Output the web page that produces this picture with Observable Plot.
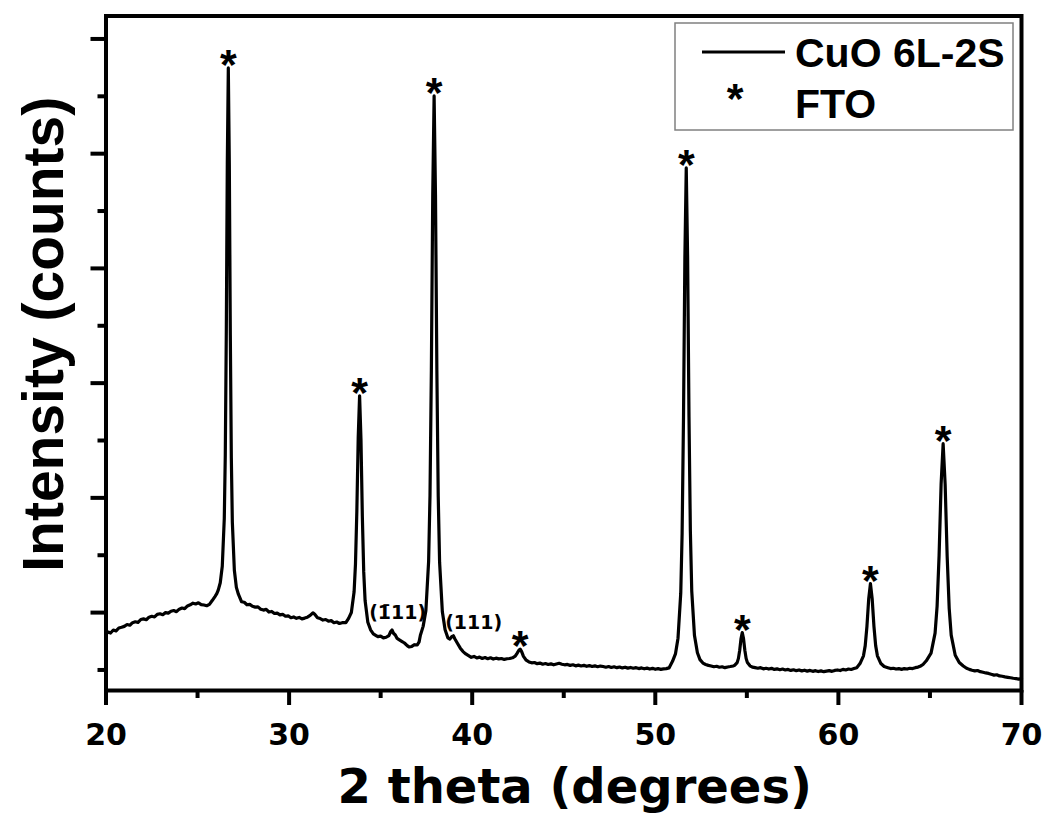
<!DOCTYPE html>
<html>
<head>
<meta charset="utf-8">
<script src="https://cdn.jsdelivr.net/npm/d3@7"></script>
<script src="https://cdn.jsdelivr.net/npm/@observablehq/plot@0.6"></script>
<style>
  html, body { margin: 0; padding: 0; background: #fff; }
  #chart svg { display: block; }
</style>
</head>
<body>
<div id="chart"></div>
<script>
// ---- data ----
// XRD pattern: [2 theta (deg), intensity (counts, arbitrary scale)]
const xrd = [
  [20.0, 812], [20.12, 830], [20.25, 822], [20.4, 848], [20.55, 840], [20.7, 866], [20.85, 872], [21.0, 880],
  [21.15, 896], [21.3, 890], [21.45, 912], [21.6, 920], [21.75, 915], [21.9, 940], [22.05, 945], [22.2, 938],
  [22.35, 960], [22.5, 968], [22.65, 962], [22.8, 985], [22.95, 990], [23.1, 982], [23.25, 1000], [23.4, 995],
  [23.55, 1012], [23.7, 1018], [23.85, 1008], [24.0, 1030], [24.15, 1040], [24.3, 1035], [24.45, 1058], [24.6, 1068],
  [24.75, 1082], [24.9, 1075], [25.05, 1085], [25.2, 1070], [25.35, 1066], [25.5, 1060], [25.65, 1072], [25.8, 1105],
  [25.95, 1140], [26.05, 1165], [26.13, 1196], [26.24, 1260], [26.35, 1404], [26.46, 1820], [26.515, 2374], [26.57, 3437],
  [26.625, 4915], [26.68, 5747], [26.735, 4909], [26.79, 3418], [26.845, 2347], [26.9, 1789], [27.01, 1369], [27.12, 1220],
  [27.23, 1160], [27.4, 1095], [27.55, 1090], [27.7, 1068], [27.85, 1072], [28.0, 1055], [28.15, 1048], [28.3, 1050],
  [28.45, 1030], [28.6, 1022], [28.75, 1028], [28.9, 1005], [29.05, 1010], [29.2, 992], [29.35, 996], [29.5, 980],
  [29.65, 985], [29.8, 968], [29.95, 972], [30.1, 955], [30.25, 962], [30.4, 950], [30.55, 958], [30.7, 945],
  [30.85, 952], [31.0, 960], [31.15, 975], [31.3, 998], [31.4, 985], [31.55, 955], [31.7, 948], [31.85, 935],
  [32.0, 940], [32.15, 925], [32.3, 930], [32.45, 912], [32.6, 918], [32.75, 905], [32.9, 912], [33.1, 912],
  [33.25, 950], [33.4, 1001], [33.55, 1182], [33.625, 1423], [33.7, 1885], [33.775, 2528], [33.85, 2890], [33.925, 2512],
  [34.0, 1840], [34.075, 1357], [34.15, 1105], [34.3, 916], [34.45, 850], [34.6, 815], [34.75, 800], [34.85, 790],
  [35.0, 795], [35.15, 780], [35.3, 785], [35.45, 800], [35.55, 835], [35.62, 848], [35.7, 820], [35.8, 805],
  [35.9, 775], [36.0, 765], [36.15, 750], [36.3, 735], [36.45, 712], [36.55, 700], [36.7, 705], [36.85, 720],
  [37.0, 718], [37.1, 745], [37.17, 802], [37.32, 880], [37.47, 1016], [37.62, 1446], [37.695, 2019], [37.77, 3117],
  [37.845, 4644], [37.92, 5503], [37.995, 4642], [38.07, 3112], [38.145, 2011], [38.22, 1437], [38.37, 1007], [38.52, 850],
  [38.67, 780], [38.78, 770], [38.88, 790], [38.97, 798], [39.05, 772], [39.2, 730], [39.35, 690], [39.5, 660],
  [39.65, 640], [39.8, 625], [39.95, 610], [40.1, 618], [40.25, 605], [40.4, 612], [40.55, 600], [40.7, 608],
  [40.85, 598], [41.0, 606], [41.15, 595], [41.3, 603], [41.45, 597], [41.6, 600], [41.75, 592], [41.9, 598],
  [42.05, 600], [42.2, 606], [42.35, 620], [42.45, 645], [42.55, 672], [42.62, 682], [42.7, 660], [42.8, 618],
  [42.95, 585], [43.1, 570], [43.25, 562], [43.4, 565], [43.55, 555], [43.7, 560], [43.85, 550], [44.0, 556],
  [44.15, 548], [44.3, 553], [44.45, 545], [44.6, 552], [44.75, 558], [44.9, 550], [45.05, 545], [45.2, 548],
  [45.35, 540], [45.5, 545], [45.65, 536], [45.8, 542], [45.95, 535], [46.1, 540], [46.25, 532], [46.4, 538],
  [46.55, 530], [46.7, 536], [46.85, 528], [47.0, 534], [47.15, 530], [47.3, 524], [47.45, 530], [47.6, 522],
  [47.75, 528], [47.9, 520], [48.05, 526], [48.2, 518], [48.35, 524], [48.5, 516], [48.65, 522], [48.8, 515],
  [48.95, 520], [49.1, 512], [49.25, 518], [49.4, 510], [49.55, 516], [49.7, 508], [49.85, 514], [50.0, 506],
  [50.15, 512], [50.3, 505], [50.45, 510], [50.6, 512], [50.75, 518], [50.94, 575], [51.1, 640], [51.24, 777],
  [51.39, 1169], [51.465, 1692], [51.54, 2696], [51.615, 4091], [51.69, 4876], [51.765, 4096], [51.84, 2708], [51.915, 1711],
  [51.99, 1190], [52.14, 800], [52.3, 650], [52.44, 590], [52.6, 560], [52.75, 548], [52.9, 540], [53.05, 535],
  [53.2, 528], [53.35, 532], [53.5, 524], [53.65, 528], [53.8, 520], [53.95, 526], [54.1, 530], [54.25, 535],
  [54.33, 540], [54.47, 564], [54.54, 601], [54.61, 672], [54.68, 771], [54.75, 826], [54.82, 771], [54.89, 672],
  [54.96, 601], [55.03, 564], [55.17, 536], [55.3, 525], [55.45, 520], [55.6, 515], [55.75, 520], [55.9, 510],
  [56.05, 515], [56.2, 508], [56.35, 514], [56.5, 505], [56.65, 510], [56.8, 502], [56.95, 508], [57.1, 500],
  [57.25, 505], [57.4, 496], [57.55, 502], [57.7, 494], [57.85, 500], [58.0, 492], [58.15, 498], [58.3, 490],
  [58.45, 496], [58.6, 488], [58.75, 494], [58.9, 486], [59.05, 492], [59.2, 485], [59.35, 490], [59.5, 494],
  [59.65, 488], [59.8, 496], [59.95, 500], [60.1, 495], [60.25, 505], [60.4, 500], [60.55, 508], [60.7, 504],
  [60.85, 512], [61.0, 520], [61.18, 556], [61.37, 623], [61.465, 712], [61.56, 883], [61.655, 1120], [61.75, 1253],
  [61.845, 1120], [61.94, 883], [62.035, 712], [62.13, 623], [62.32, 556], [62.5, 530], [62.7, 520], [62.85, 512],
  [63.0, 515], [63.15, 508], [63.3, 512], [63.45, 505], [63.6, 512], [63.75, 508], [63.9, 515], [64.05, 512],
  [64.2, 520], [64.35, 525], [64.5, 535], [64.62, 548], [64.8, 580], [65.06, 647], [65.28, 821], [65.39, 1054],
  [65.5, 1501], [65.61, 2122], [65.72, 2472], [65.83, 2119], [65.94, 1491], [66.05, 1040], [66.16, 804], [66.38, 628],
  [66.6, 565], [66.82, 535], [67.0, 515], [67.15, 505], [67.3, 498], [67.45, 492], [67.6, 495], [67.75, 485],
  [67.9, 480], [68.05, 474], [68.2, 470], [68.35, 462], [68.5, 455], [68.65, 458], [68.8, 448], [68.95, 445],
  [69.1, 440], [69.25, 436], [69.4, 432], [69.55, 428], [69.7, 425], [69.85, 420], [70.0, 424]
];

// FTO reflections marked with "*"
const ftoTheta  = [26.68, 33.85, 37.92, 42.62, 51.69, 54.75, 61.75, 65.72];
const ftoCounts = [5747, 2890, 5503, 682, 4876, 826, 1253, 2472];

// CuO reflection labels
const cuoLabels = ["(1\u030411)", "(111)"];
const cuoTheta  = [35.93, 40.08];
const cuoCounts = [1000, 913];

// axis ticks
const xMajor = [20, 30, 40, 50, 60, 70];
const xMinor = [25, 35, 45, 55, 65];
const yMajor = [1000, 2000, 3000, 4000, 5000, 6000];
const yMinor = [500, 1500, 2500, 3500, 4500, 5500];

const xTitle = "2 theta (degrees)";
const yTitle = "Intensity (counts)";
const legendSeries = "CuO 6L-2S";
const legendMarker = "FTO";

// ---- chart ----
const stars = ftoTheta.map((t, i) => ({t, c: ftoCounts[i]}));
const cuo = cuoLabels.map((s, i) => ({s, t: cuoTheta[i], c: cuoCounts[i]}));

const plot = Plot.plot({
  width: 1047,
  height: 816,
  marginLeft: 105.5,
  marginRight: 26,
  marginTop: 15.5,
  marginBottom: 126,
  x: {domain: [20, 70]},
  y: {domain: [321, 6200]},
  style: {fontFamily: "DejaVu Sans", fontWeight: "bold", color: "black", background: "white"},
  marks: [
    Plot.axisX({ticks: xMajor, tickSize: 15, tickPadding: 18, fontSize: 30, strokeWidth: 4, label: null, tickFormat: d => String(d)}),
    Plot.axisX({ticks: xMinor, tickSize: 8, strokeWidth: 4, label: null, tickFormat: () => ""}),
    Plot.axisY({ticks: yMajor, tickSize: 15, strokeWidth: 4, label: null, tickFormat: () => ""}),
    Plot.axisY({ticks: yMinor, tickSize: 8, strokeWidth: 4, label: null, tickFormat: () => ""}),
    Plot.line(xrd, {x: d => d[0], y: d => d[1], stroke: "black", strokeWidth: 3.2, strokeLinejoin: "round"}),
    Plot.frame({stroke: "black", strokeWidth: 4}),
    Plot.text(stars, {x: "t", y: "c", text: () => "*", lineAnchor: "bottom", dy: 11, fontSize: 43,
      fontFamily: "Liberation Sans", fontWeight: "bold", fill: "black"}),
    Plot.text(cuo, {x: "t", y: "c", text: "s", fontSize: 19, fontFamily: "DejaVu Sans", fontWeight: "bold", fill: "black"}),
    Plot.text([xTitle], {frameAnchor: "bottom", lineAnchor: "bottom", dy: 112, dx: 11, fontSize: 48,
      fontFamily: "DejaVu Sans", fontWeight: "bold", fill: "black"}),
    Plot.text([yTitle], {frameAnchor: "left", textAnchor: "middle", rotate: -90, lineAnchor: "bottom", dx: -43.5, dy: -19, fontSize: 57,
      fontFamily: "Liberation Sans", fontWeight: "bold", fill: "black"})
  ]
});

// legend box (top right, inside the frame)
const svg = d3.select(plot);
const lg = svg.append("g").attr("font-family", "Liberation Sans").attr("font-weight", "bold");
lg.append("rect").attr("x", 675).attr("y", 23).attr("width", 338).attr("height", 107)
  .attr("fill", "white").attr("stroke", "#808080").attr("stroke-width", 1.5);
lg.append("line").attr("x1", 702).attr("x2", 785).attr("y1", 52).attr("y2", 52)
  .attr("stroke", "black").attr("stroke-width", 3);
lg.append("text").attr("x", 795).attr("y", 67).attr("text-anchor", "start").attr("font-size", 41).attr("fill", "black").text(legendSeries);
lg.append("text").attr("x", 735).attr("y", 113).attr("text-anchor", "middle").attr("font-size", 43).attr("fill", "black").text("*");
lg.append("text").attr("x", 795).attr("y", 118).attr("text-anchor", "start").attr("font-size", 41).attr("fill", "black").text(legendMarker);

document.getElementById("chart").appendChild(plot);
</script>
</body>
</html>
